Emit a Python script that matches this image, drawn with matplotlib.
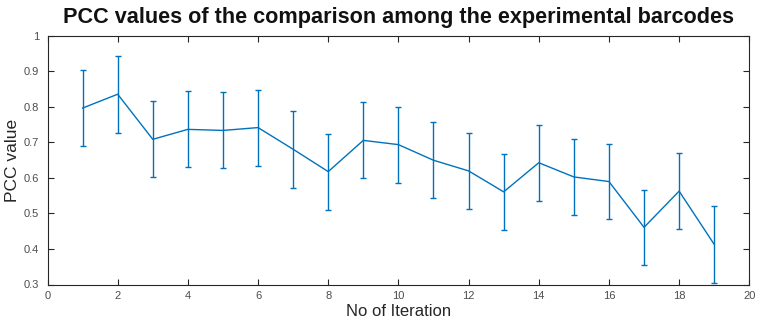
import matplotlib
matplotlib.use("Agg")
import matplotlib.pyplot as plt
import numpy as np

iterations = list(range(1, 20))
pcc_mean = [0.797, 0.836, 0.709, 0.737, 0.734, 0.742, 0.681, 0.618, 0.706, 0.694,
            0.650, 0.620, 0.561, 0.643, 0.603, 0.590, 0.461, 0.563, 0.413]
pcc_err = [0.108, 0.108, 0.107, 0.107, 0.107, 0.107, 0.108, 0.107, 0.107, 0.107,
           0.107, 0.107, 0.107, 0.107, 0.107, 0.106, 0.106, 0.107, 0.108]
x_ticks = [0, 2, 4, 6, 8, 10, 12, 14, 16, 18, 20]
y_ticks = [0.3, 0.4, 0.5, 0.6, 0.7, 0.8, 0.9, 1.0]
y_tick_labels = ["0.3", "0.4", "0.5", "0.6", "0.7", "0.8", "0.9", "1"]

plt.rcParams["font.family"] = ["Liberation Sans", "DejaVu Sans"]

fig = plt.figure(figsize=(7.58, 3.29), dpi=100)
ax = fig.add_axes([47.5 / 758, (329 - 284.5) / 329, (749.3 - 47.5) / 758, (284.5 - 36) / 329])

line_color = "#0072BD"
ax.errorbar(iterations, pcc_mean, yerr=pcc_err, color=line_color, linewidth=1.0,
            elinewidth=1.0, capsize=2.5, capthick=1.0)

ax.set_xlim(0, 20)
ax.set_ylim(0.3, 1.0)
ax.set_xticks(x_ticks)
ax.set_yticks(y_ticks)
ax.set_yticklabels(y_tick_labels)

tick_gray = "#4d4d4d"
ax.tick_params(direction="in", top=True, right=True, length=4, width=0.8,
               colors="#262626", labelcolor=tick_gray, labelsize=8)
ax.tick_params(axis="x", pad=5)
ax.tick_params(axis="y", pad=6)
for side in ax.spines.values():
    side.set_color("#262626")
    side.set_linewidth(0.8)

ax.set_xlabel("No of Iteration", fontsize=12, color="#262626", labelpad=2)
ax.set_ylabel("PCC value", fontsize=12.5, color="#262626", labelpad=3)
fig.text(0.5 * (62 + 735) / 758, 1 - 17 / 329,
         "PCC values of the comparison among the experimental barcodes",
         ha="center", va="center", fontsize=15.6, fontweight="bold", color="#111111")

fig.savefig("out.png", dpi=100)
